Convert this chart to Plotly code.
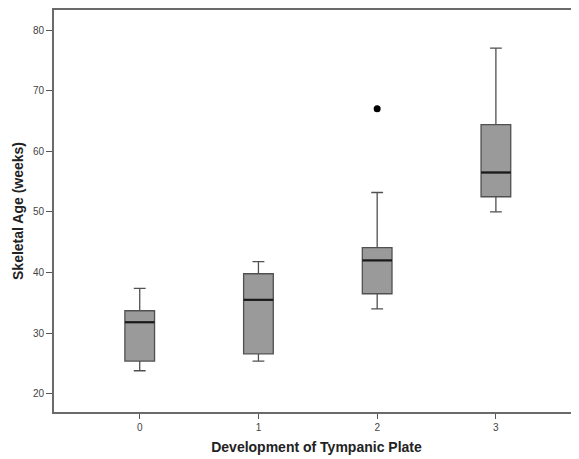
import plotly.graph_objects as go

categories = [0, 1, 2, 3]
lower_whisker = [23.8, 25.4, 34.0, 50.0]
q1 = [25.4, 26.6, 36.5, 52.5]
median = [31.8, 35.5, 42.0, 56.5]
q3 = [33.7, 39.8, 44.1, 64.4]
upper_whisker = [37.4, 41.8, 53.2, 77.0]
outlier_x = [2]
outlier_y = [67.0]
y_ticks = [20, 30, 40, 50, 60, 70, 80]

box_w = 0.25

fig = go.Figure()
fig.add_trace(go.Box(
    x=categories, q1=q1, median=median, q3=q3,
    lowerfence=lower_whisker, upperfence=upper_whisker,
    width=box_w, whiskerwidth=0.4,
    fillcolor="#9a9a9a",
    line=dict(color="#505050", width=1.3),
    boxpoints=False, showlegend=False, hoverinfo="skip",
))
fig.add_trace(go.Scatter(
    x=outlier_x, y=outlier_y, mode="markers",
    marker=dict(color="black", size=7),
    showlegend=False,
))
for c, m in zip(categories, median):
    fig.add_shape(type="line", xref="x", yref="y",
                  x0=c - box_w / 2, x1=c + box_w / 2, y0=m, y1=m,
                  line=dict(color="#1a1a1a", width=2.2))

# page body has an 8px default margin, so the figure is sized to fit the window
fig.update_layout(
    width=571, height=451,
    margin=dict(l=46, r=0, t=0, b=47),
    paper_bgcolor="white", plot_bgcolor="white",
    font=dict(family="Liberation Sans, Arial", color="#333333"),
)
fig.update_xaxes(
    range=[-0.722, 3.70], tickvals=categories, ticktext=[str(c) for c in categories],
    showgrid=False, zeroline=False,
    showline=True, linecolor="#6a6a6a", linewidth=2, mirror=True,
    ticks="outside", ticklen=5, tickwidth=1.3, tickcolor="#555555",
    tickfont=dict(size=10, color="#444444"),
    title=dict(text="<b>Development of Tympanic Plate</b>", font=dict(size=14, color="#222222"), standoff=10),
)
fig.update_yaxes(
    range=[17.0, 83.3], tickvals=y_ticks,
    showgrid=False, zeroline=False,
    showline=True, linecolor="#6a6a6a", linewidth=2, mirror=False,
    ticks="outside", ticklen=6, tickwidth=1.3, tickcolor="#555555",
    tickfont=dict(size=10, color="#444444"),
    title=dict(text="<b>Skeletal Age (weeks)</b>", font=dict(size=14, color="#222222"), standoff=6),
)
fig.write_html("out.html")
